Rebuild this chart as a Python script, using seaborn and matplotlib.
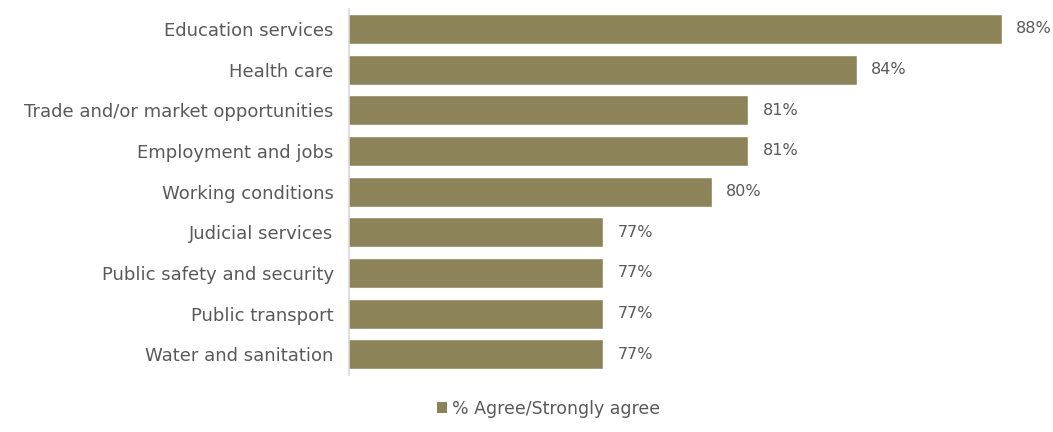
import matplotlib
matplotlib.use("Agg")
import matplotlib.pyplot as plt
import seaborn as sns
import pandas as pd
from matplotlib.patches import Patch

categories = [
    "Education services",
    "Health care",
    "Trade and/or market opportunities",
    "Employment and jobs",
    "Working conditions",
    "Judicial services",
    "Public safety and security",
    "Public transport",
    "Water and sanitation",
]
agree_pct = [88, 84, 81, 81, 80, 77, 77, 77, 77]
series_name = "% Agree/Strongly agree"

BAR_COLOR = "#8c8458"
TEXT_COLOR = "#595959"

sns.set_theme(style="white")
plt.rcParams["font.family"] = ["DejaVu Sans"]

df = pd.DataFrame({"category": categories, "value": agree_pct})

fig = plt.figure(figsize=(10.53, 4.32), dpi=100)
ax = fig.add_axes([0.3314, 0.133, 0.6543, 0.847])

sns.barplot(data=df, x="value", y="category", orient="h", color=BAR_COLOR,
            width=0.74, saturation=1, ax=ax)

ax.set_xlim(70, 89)
ax.set_ylim(len(categories) - 0.5, -0.5)

for container in ax.containers:
    ax.bar_label(container, labels=[f"{v}%" for v in agree_pct], padding=10.5,
                 fontsize=11.5, color=TEXT_COLOR)

ax.set_xlabel("")
ax.set_ylabel("")
ax.set_xticks([])
ax.tick_params(axis="y", length=0, pad=11, labelsize=13, labelcolor=TEXT_COLOR)

for side in ["top", "right", "bottom"]:
    ax.spines[side].set_visible(False)
ax.spines["left"].set_color("#d9d9d9")
ax.spines["left"].set_linewidth(1.2)

handle = Patch(facecolor=BAR_COLOR, edgecolor="none")
fig.legend([handle], [series_name], loc="center", bbox_to_anchor=(0.521, 0.053),
           frameon=False, fontsize=12.5, labelcolor=TEXT_COLOR,
           handlelength=0.6, handleheight=0.6, handletextpad=0.3)

fig.savefig("out.png", dpi=100)
